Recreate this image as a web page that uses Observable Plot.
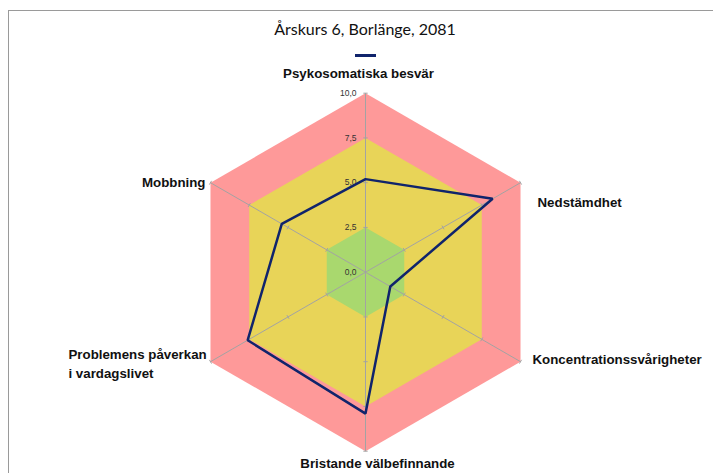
<!DOCTYPE html>
<html>
<head>
<meta charset="utf-8">
<script src="https://cdn.jsdelivr.net/npm/d3@7"></script>
<script src="https://cdn.jsdelivr.net/npm/@observablehq/plot@0.6"></script>
<style>
  html, body { margin: 0; padding: 0; background: #fff; }
  #wrap { position: relative; width: 713px; height: 473px; overflow: hidden; }
  #frame { position: absolute; left: 8px; top: 10px; width: 900px; height: 700px; border-left: 1px solid #9a9a9a; border-top: 1px solid #9a9a9a; }
  #title { position: absolute; left: 0; top: 19px; width: 730px; text-align: center; font: 400 16px Lato, "Open Sans", sans-serif; color: #111; line-height: 20px; }
  #swatch { position: absolute; left: 355px; top: 54px; width: 21px; height: 3px; background: #10246c; }
  #chart { position: absolute; left: 0; top: 0; }
</style>
</head>
<body>
<div id="wrap">
  <div id="chart"></div>
  <div id="frame"></div>
  <div id="title"></div>
  <div id="swatch"></div>
</div>
<script>
const title = "Årskurs 6, Borlänge, 2081";
const categories = [
  "Psykosomatiska besvär",
  "Nedstämdhet",
  "Koncentrationssvårigheter",
  "Bristande välbefinnande",
  "Problemens påverkan\ni vardagslivet",
  "Mobbning"
];
const values = [5.2, 8.2, 1.6, 7.9, 7.6, 5.4];
const tickValues = [0, 2.5, 5, 7.5, 10];
const tickLabels = ["0,0", "2,5", "5,0", "7,5", "10,0"];
const bandLimits = [10, 7.5, 2.5];
const bandColors = ["#fe9999", "#e8d458", "#a9d86e"];

document.getElementById("title").textContent = title;

// geometry (pixel layout of the radial frame)
const W = 713, H = 473, cx = 365, cy = 271.7, R = 179, maxV = 10;
const ppu = R / maxV;
const n = categories.length;
const ang = i => Math.PI / 2 - i * 2 * Math.PI / n;
const px = (v, i) => v * Math.cos(ang(i));
const py = (v, i) => v * Math.sin(ang(i));

const bandRows = bandLimits.flatMap((lim, b) =>
  categories.map((c, i) => ({band: b, color: bandColors[b], x: px(lim, i), y: py(lim, i)})));

const seriesRows = values.map((v, i) => ({x: px(v, i), y: py(v, i)}));

const tickLen = 0.12;
const tickRows = categories.flatMap((c, i) => tickValues.filter(t => t > 0).map(t => {
  const a = ang(i), ox = -Math.sin(a) * tickLen, oy = Math.cos(a) * tickLen;
  return {x1: px(t, i) - ox, y1: py(t, i) - oy, x2: px(t, i) + ox, y2: py(t, i) + oy};
}));

const labelLayout = [
  {textAnchor: "middle", dx: -7, dy: -21},
  {textAnchor: "start", dx: 17, dy: 18},
  {textAnchor: "start", dx: 12, dy: -4},
  {textAnchor: "middle", dx: 12, dy: 11},
  {textAnchor: "start", dx: -142, dy: 1},
  {textAnchor: "end", dx: -5, dy: -2}
];

const labelMarks = categories.map((c, i) => Plot.text([c], {
  x: () => px(maxV, i), y: () => py(maxV, i), text: d => d,
  textAnchor: labelLayout[i].textAnchor, lineAnchor: "middle",
  dx: labelLayout[i].dx, dy: labelLayout[i].dy,
  fontSize: 13.3, fontWeight: "bold", fill: "#111", lineHeight: 1.43,
  fontFamily: "'Liberation Sans', Arial, sans-serif"
}));

const chart = Plot.plot({
  width: W, height: H,
  marginTop: 0, marginRight: 0, marginBottom: 0, marginLeft: 0,
  x: {domain: [-cx / ppu, (W - cx) / ppu], axis: null},
  y: {domain: [-(H - cy) / ppu, cy / ppu], axis: null},
  color: {type: "identity"},
  style: {background: "transparent", overflow: "visible"},
  marks: [
    Plot.line(bandRows, {x: "x", y: "y", z: "band", fill: "color", stroke: "none", curve: "linear-closed"}),
    Plot.link(categories, {x1: 0, y1: 0, x2: (d, i) => px(maxV, i), y2: (d, i) => py(maxV, i), stroke: "#a3a3a3", strokeWidth: 1}),
    Plot.link(tickRows, {x1: "x1", y1: "y1", x2: "x2", y2: "y2", stroke: "#a3a3a3", strokeWidth: 1}),
    Plot.text(tickValues, {x: 0, y: d => d, text: (d, i) => tickLabels[i], textAnchor: "end", dx: -9, fontSize: 8.5, fill: "#333", fontFamily: "'Liberation Sans', Arial, sans-serif"}),
    Plot.line(seriesRows, {x: "x", y: "y", curve: "linear-closed", stroke: "#10246c", strokeWidth: 2.5, strokeLinejoin: "miter"}),
    ...labelMarks
  ]
});
document.getElementById("chart").appendChild(chart);
</script>
</body>
</html>
